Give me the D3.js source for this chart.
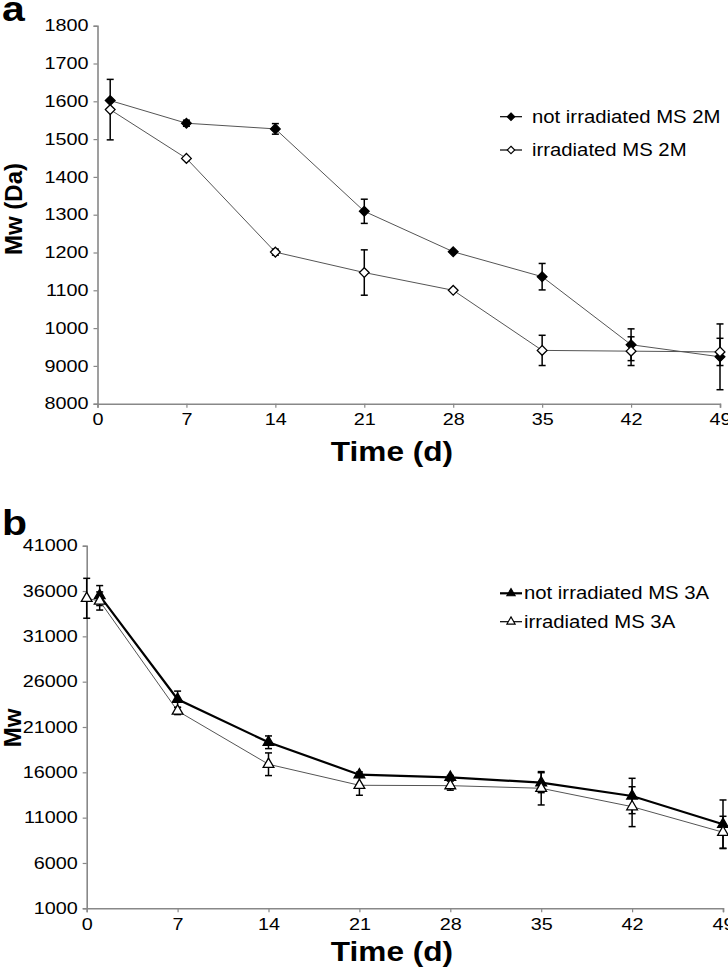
<!DOCTYPE html>
<html>
<head>
<meta charset="utf-8">
<script src="https://cdn.jsdelivr.net/npm/d3@7"></script>
<style>
  body { margin: 0; background: #fff; }
  svg { display: block; font-family: "Liberation Sans", Arial, sans-serif; }
</style>
</head>
<body>
<script>
// Panel a - Mw (Da) of MS 2M
const daysA = [1, 7, 14, 21, 28, 35, 42, 49];
const notIrrA = [1602, 1542, 1527, 1309, 1202, 1136, 956, 924];
const notIrrAErr = [0, 8, 14, 32, 0, 35, 42, 87];
const irrA = [1578, 1449, 1201, 1147, 1100, 941, 939, 937];
const irrAErr = [80, 4, 8, 60, 0, 40, 38, 36];
const yTicksA = [800, 900, 1000, 1100, 1200, 1300, 1400, 1500, 1600, 1700, 1800];
const yTickLabelsA = ["8000", "9000", "1000", "1100", "1200", "1300", "1400", "1500", "1600", "1700", "1800"];

// Panel b - Mw of MS 3A
const daysBNot = [1, 7, 14, 21, 28, 35, 42, 49];
const notIrrB = [35500, 24060, 19315, 15740, 15450, 14860, 13390, 10270];
const notIrrBErr = [1100, 900, 700, 300, 200, 1100, 1950, 2680];
const daysBIrr = [0, 1, 7, 14, 21, 28, 35, 42, 49];
const irrB = [35200, 34900, 22770, 16890, 14570, 14530, 14240, 12210, 9390];
const irrBErr = [2200, 1000, 400, 1250, 1100, 500, 1840, 2200, 1760];
const yTicksB = [1000, 6000, 11000, 16000, 21000, 26000, 31000, 36000, 41000];

const xTicks = [0, 7, 14, 21, 28, 35, 42, 49];

const W = 728, H = 969;
const STRETCH = 1.17;  // the original figure is a bit wider than tall

const svg = d3.select("body").append("svg")
  .attr("width", W)
  .attr("height", H);

// streches text horizontally like in the scanned figure
const stretch = (sel, k) => {
  sel.each(function () {
    const w = this.getComputedTextLength();
    d3.select(this).attr("textLength", w * k).attr("lengthAdjust", "spacingAndGlyphs");
  });
};

const zip = (xs, ys, es) => xs.map((x, i) => ({ x: x, y: ys[i], e: es[i] }));

const drawPanel = (p) => {
  const x = d3.scaleLinear().domain([0, 49]).range([p.left, p.right]);
  const y = d3.scaleLinear().domain(p.yDomain).range([p.bottom, p.top]);

  // axes
  const xAxis = svg.append("g")
    .attr("transform", `translate(0, ${p.bottom})`)
    .call(d3.axisBottom(x).tickValues(xTicks).tickSize(4).tickPadding(6).tickFormat(d3.format("d")));
  const yAxis = svg.append("g")
    .attr("transform", `translate(${p.left}, 0)`)
    .call(d3.axisLeft(y).tickValues(p.yTicks).tickSize(4).tickPadding(5)
      .tickFormat((d, i) => p.yTickLabels ? p.yTickLabels[i] : d));

  [xAxis, yAxis].forEach(ax => {
    ax.select(".domain").attr("stroke", "#888").attr("stroke-width", 1.6);
    ax.selectAll(".tick line").attr("stroke", "#888").attr("stroke-width", 1.2);
    ax.selectAll(".tick text")
      .attr("fill", "#000")
      .style("font-size", "16.5px")
      .style("font-family", "'Liberation Sans', Arial, sans-serif");
    stretch(ax.selectAll(".tick text"), 1.2);
  });

  // axis titles
  const tx = svg.append("text")
    .attr("x", p.titleX)
    .attr("y", p.bottom + p.titleOffset)
    .attr("text-anchor", "middle")
    .style("font-size", "27px")
    .style("font-weight", "bold")
    .text("Time (d)");
  stretch(tx, STRETCH);

  svg.append("text")
    .attr("transform", `translate(${p.yTitleX}, ${p.yTitleY}) rotate(-90)`)
    .attr("text-anchor", "middle")
    .style("font-size", p.yTitleSize + "px")
    .style("font-weight", "bold")
    .text(p.yTitle);

  // panel letter
  const letter = svg.append("text")
    .attr("x", 2)
    .attr("y", p.letterY)
    .style("font-size", "35px")
    .style("font-weight", "bold")
    .text(p.letter);
  stretch(letter, STRETCH);

  // series
  p.series.forEach(s => {
    const pts = zip(s.days, s.values, s.errs);
    const line = d3.line().x(d => x(d.x)).y(d => y(d.y));
    svg.append("path")
      .datum(pts)
      .attr("d", line)
      .attr("fill", "none")
      .attr("stroke", s.lineColor)
      .attr("stroke-width", s.lineWidth);

    const eb = svg.append("g");
    pts.filter(d => d.e > 0).forEach(d => {
      const cx = x(d.x);
      eb.append("line")
        .attr("x1", cx).attr("x2", cx)
        .attr("y1", y(d.y + d.e)).attr("y2", y(d.y - d.e))
        .attr("stroke", "#000").attr("stroke-width", 1.5);
      [d.y + d.e, d.y - d.e].forEach(v => {
        eb.append("line")
          .attr("x1", cx - 3.5).attr("x2", cx + 3.5)
          .attr("y1", y(v)).attr("y2", y(v))
          .attr("stroke", "#000").attr("stroke-width", 1.5);
      });
    });

    svg.append("g").selectAll("path")
      .data(pts)
      .enter()
      .append("path")
      .attr("transform", d => `translate(${x(d.x)}, ${y(d.y)})`)
      .attr("d", d3.symbol().type(s.symbol).size(s.symbolSize))
      .attr("fill", s.filled ? "#000" : "#fff")
      .attr("stroke", "#000")
      .attr("stroke-width", 1.3);
  });

  // legend
  const lg = svg.append("g");
  p.series.forEach((s, i) => {
    const ly = p.legendY + i * p.legendGap;
    lg.append("line")
      .attr("x1", 500).attr("x2", 522)
      .attr("y1", ly).attr("y2", ly)
      .attr("stroke", "#000").attr("stroke-width", s.legendLineWidth);
    lg.append("path")
      .attr("transform", `translate(511, ${ly})`)
      .attr("d", d3.symbol().type(s.symbol).size(s.symbolSize * 0.6))
      .attr("fill", s.filled ? "#000" : "#fff")
      .attr("stroke", "#000")
      .attr("stroke-width", 1.1);
    const t = lg.append("text")
      .attr("x", p.legendTextX)
      .attr("y", ly + 6)
      .style("font-size", "17.5px")
      .text(s.name);
    stretch(t, 1.16);
  });
};

drawPanel({
  letter: "a", letterY: 21,
  left: 97.5, right: 720, top: 25.7, bottom: 403.7,
  yDomain: [800, 1800], yTicks: yTicksA, yTickLabels: yTickLabelsA,
  titleX: 392, titleOffset: 57,
  yTitle: "Mw (Da)", yTitleX: 22, yTitleY: 209, yTitleSize: 24,
  legendY: 116.7, legendGap: 33.3, legendTextX: 532,
  series: [
    { name: "not irradiated MS 2M", days: daysA, values: notIrrA, errs: notIrrAErr,
      symbol: d3.symbolDiamond2, symbolSize: 60, filled: true,
      lineColor: "#555", lineWidth: 1, legendLineWidth: 1.2 },
    { name: "irradiated MS 2M", days: daysA, values: irrA, errs: irrAErr,
      symbol: d3.symbolDiamond2, symbolSize: 60, filled: false,
      lineColor: "#555", lineWidth: 1, legendLineWidth: 1.2 }
  ]
});

drawPanel({
  letter: "b", letterY: 535,
  left: 86.7, right: 723, top: 545.7, bottom: 908.3,
  yDomain: [1000, 41000], yTicks: yTicksB, yTickLabels: null,
  titleX: 392, titleOffset: 53,
  yTitle: "Mw", yTitleX: 21, yTitleY: 728, yTitleSize: 24,
  legendY: 593.3, legendGap: 28.4, legendTextX: 524,
  series: [
    { name: "not irradiated MS 3A", days: daysBNot, values: notIrrB, errs: notIrrBErr,
      symbol: d3.symbolTriangle, symbolSize: 50, filled: true,
      lineColor: "#000", lineWidth: 2.2, legendLineWidth: 2.2 },
    { name: "irradiated MS 3A", days: daysBIrr, values: irrB, errs: irrBErr,
      symbol: d3.symbolTriangle, symbolSize: 50, filled: false,
      lineColor: "#555", lineWidth: 1, legendLineWidth: 1.2 }
  ]
});
</script>
</body>
</html>
